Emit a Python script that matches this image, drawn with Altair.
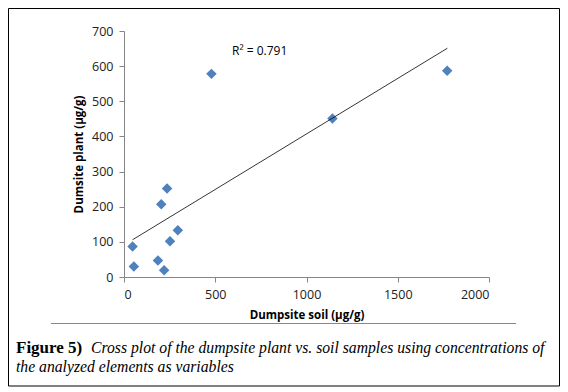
import altair as alt
import pandas as pd

# Data
soil = [47, 54, 186, 220, 204, 236, 252, 295, 479, 1142, 1771]
plant = [87, 30, 47, 19, 207, 252, 102, 133, 578, 451, 587]

trend_x = [47, 1772]
trend_y = [106, 651]

x_ticks = [0, 500, 1000, 1500, 2000]
y_ticks = [0, 100, 200, 300, 400, 500, 600, 700]

r2_label = "R\u00b2 = 0.791"
caption_bold = "Figure 5)"
caption_line1 = "Cross plot of the dumpsite plant vs. soil samples using concentrations of"
caption_line2 = "the analyzed elements as variables"

pts = pd.DataFrame({"soil": soil, "plant": plant})
trend = pd.DataFrame({"soil": trend_x, "plant": trend_y})

W, H = 365, 246
PL, PT = 116, 23

xscale = alt.Scale(domain=[0, 2000], nice=False)
yscale = alt.Scale(domain=[0, 700], nice=False)

common = dict(grid=False, titleFont="Open Sans", titleFontSize=11.5, titleFontWeight="bold",
              titleColor="#000000", labelFont="Open Sans", labelFontSize=12.5,
              labelColor="#222222", domainColor="#868686", tickColor="#868686",
              tickSize=5, labelOverlap=False, format="d")

xaxis = alt.Axis(values=x_ticks, title="Dumpsite soil (µg/g)", titlePadding=9,
                 labelPadding=6, **common)
yaxis = alt.Axis(values=y_ticks, title="Dumsite plant (µg/g)", titlePadding=7,
                 labelPadding=6, **common)

points = alt.Chart(pts).mark_point(shape="diamond", filled=True, size=110,
                                   color="#4F81BD", opacity=1).encode(
    x=alt.X("soil:Q", scale=xscale, axis=xaxis),
    y=alt.Y("plant:Q", scale=yscale, axis=yaxis),
)

line = alt.Chart(trend).mark_line(color="#000000", strokeWidth=0.8).encode(
    x=alt.X("soil:Q", scale=xscale, axis=xaxis),
    y=alt.Y("plant:Q", scale=yscale, axis=yaxis),
)

r2 = alt.Chart(pd.DataFrame({"t": [r2_label]})).mark_text(
    align="left", baseline="middle", font="Open Sans", fontSize=12, color="#000000"
).encode(x=alt.value(108), y=alt.value(20), text="t:N")

# frame around the whole figure
frame = alt.Chart(pd.DataFrame({"a": [0]})).mark_rect(
    fill=None, stroke="#000000", strokeWidth=1
).encode(x=alt.value(8.5 - 8 - PL), x2=alt.value(559.5 - 8 - PL),
         y=alt.value(8.5 - 8 - PT), y2=alt.value(386 - 8 - PT))

sep = alt.Chart(pd.DataFrame({"a": [0]})).mark_rule(
    color="#888888", strokeWidth=1
).encode(x=alt.value(51 - 8 - PL), x2=alt.value(516 - 8 - PL), y=alt.value(323.5 - 8 - PT))

cap_bold = alt.Chart(pd.DataFrame({"t": [caption_bold]})).mark_text(
    align="left", baseline="alphabetic", font="Liberation Serif", fontSize=17,
    fontWeight="bold", color="#000000"
).encode(x=alt.value(16 - 8 - PL), y=alt.value(353 - 8 - PT), text="t:N")

cap1 = alt.Chart(pd.DataFrame({"t": [caption_line1]})).mark_text(
    align="left", baseline="alphabetic", font="Liberation Serif", fontSize=15.7,
    fontStyle="italic", color="#000000"
).encode(x=alt.value(91 - 8 - PL), y=alt.value(353 - 8 - PT), text="t:N")

cap2 = alt.Chart(pd.DataFrame({"t": [caption_line2]})).mark_text(
    align="left", baseline="alphabetic", font="Liberation Serif", fontSize=15.7,
    fontStyle="italic", color="#000000"
).encode(x=alt.value(16 - 8 - PL), y=alt.value(372 - 8 - PT), text="t:N")

chart = alt.layer(points, line, r2, frame, sep, cap_bold, cap1, cap2).properties(
    width=W, height=H,
    padding={"left": PL, "top": PT, "right": 552 - PL - W, "bottom": 384 - PT - H},
    autosize=alt.AutoSizeParams(type="none"),
    background="#ffffff",
).configure_view(stroke=None)

chart.save("out.html", embed_options={"renderer": "svg", "actions": False})
